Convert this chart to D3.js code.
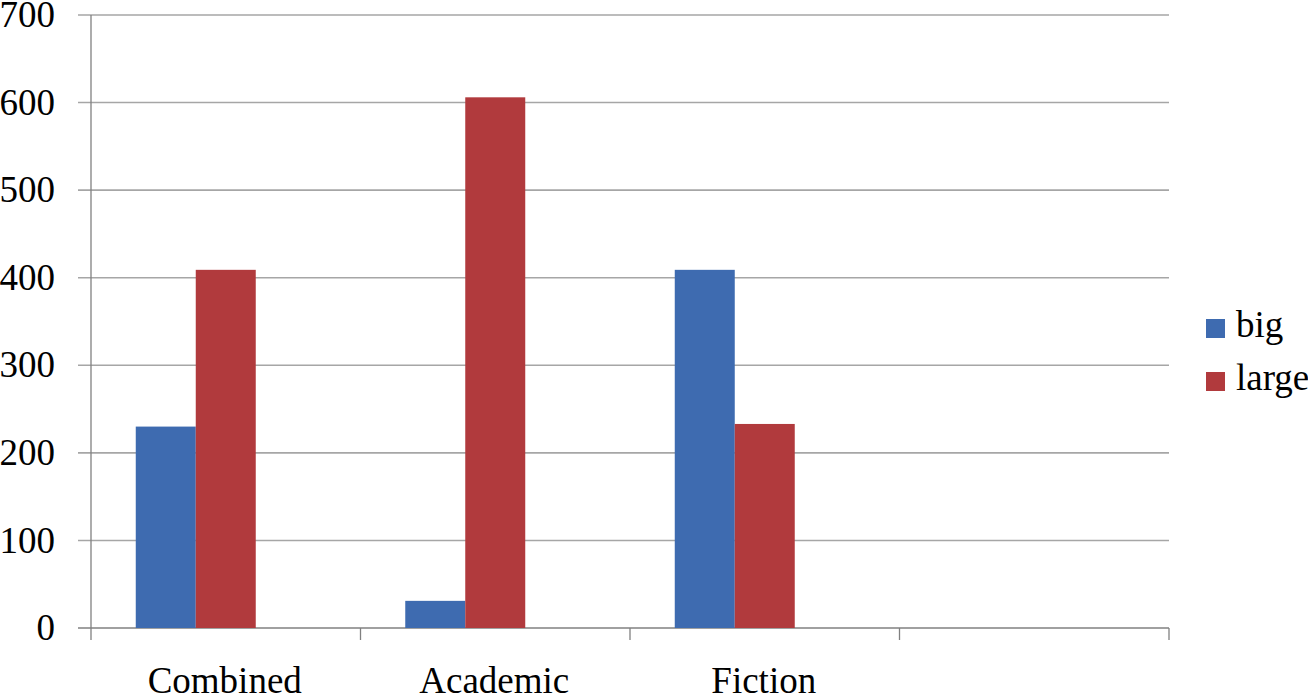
<!doctype html>
<html>
  <head>
    <meta charset="utf-8">
    <script src="https://cdn.jsdelivr.net/npm/d3@7"></script>
    <style>
      body { margin: 0; background: #fff; }
      svg text { font-family: "Liberation Serif", "Times New Roman", Times, "DejaVu Serif", serif; fill: #000; }
    </style>
  </head>
  <body>
    <div id="chart"></div>
    <script>
      const categories = ["Combined", "Academic", "Fiction", ""];
      const seriesNames = ["big", "large", ""];
      const big = [230, 31, 409, null];
      const large = [409, 606, 233, null];
      const yTicks = [0, 100, 200, 300, 400, 500, 600, 700];
      const colors = ["#3e6bb0", "#b13a3d"];

      const width = 1308, height = 695;
      const plotLeft = 91, plotRight = 1169, plotTop = 15, plotBottom = 628;
      const serif = "'Liberation Serif', 'Times New Roman', Times, 'DejaVu Serif', serif";

      const svg = d3.select("#chart").append("svg")
        .attr("width", width)
        .attr("height", height)
        .attr("font-family", serif);

      const y = d3.scaleLinear().domain([0, 700]).range([plotBottom, plotTop]);
      const x0 = d3.scaleBand().domain(d3.range(categories.length)).range([plotLeft, plotRight]);
      // third series is empty in the source, it still takes its slot
      const x1 = d3.scaleBand().domain(d3.range(seriesNames.length))
        .range([0, x0.bandwidth()]).paddingOuter(0.746);

      // gridlines
      svg.append("g").selectAll("line")
        .data(yTicks)
        .join("line")
          .attr("x1", plotLeft - 13)
          .attr("x2", plotRight)
          .attr("y1", d => y(d))
          .attr("y2", d => y(d))
          .attr("stroke", d => d === 0 ? "#808080" : "#a6a6a6")
          .attr("stroke-width", d => d === 0 ? 1.3 : 1.6);

      // y labels
      svg.append("g").selectAll("text")
        .data(yTicks)
        .join("text")
          .attr("x", 55)
          .attr("y", d => y(d))
          .attr("dy", "0.33em")
          .attr("text-anchor", "end")
          .style("font-size", "37px")
          .style("font-family", serif)
          .text(d => d);

      // bars
      const values = [big, large];
      values.forEach((vals, s) => {
        svg.append("g").selectAll("rect")
          .data(vals.map((v, i) => ({ v, i })).filter(d => d.v != null))
          .join("rect")
            .attr("x", d => x0(d.i) + x1(s))
            .attr("width", x1.bandwidth())
            .attr("y", d => y(d.v))
            .attr("height", d => y(0) - y(d.v))
            .attr("fill", colors[s]);
      });

      // y axis line
      svg.append("line")
        .attr("x1", plotLeft).attr("x2", plotLeft)
        .attr("y1", plotTop).attr("y2", plotBottom + 12)
        .attr("stroke", "#808080").attr("stroke-width", 1.3);

      // category ticks
      const edges = categories.map((c, i) => x0(i)).concat([plotRight]);
      svg.append("g").selectAll("line")
        .data(edges.slice(1))
        .join("line")
          .attr("x1", d => d).attr("x2", d => d)
          .attr("y1", plotBottom).attr("y2", plotBottom + 12)
          .attr("stroke", "#808080").attr("stroke-width", 1.3);

      // category labels
      svg.append("g").selectAll("text")
        .data(categories)
        .join("text")
          .attr("x", (d, i) => x0(i) + x0.bandwidth() / 2 - 1)
          .attr("y", 693)
          .attr("text-anchor", "middle")
          .style("font-size", "37px")
          .style("font-family", serif)
          .text(d => d);

      // legend
      const legend = svg.append("g").selectAll("g")
        .data(seriesNames.slice(0, 2))
        .join("g")
          .attr("transform", (d, i) => `translate(1206, ${319 + i * 53})`);
      legend.append("rect")
        .attr("width", 19).attr("height", 19)
        .attr("fill", (d, i) => colors[i]);
      legend.append("text")
        .attr("x", 30)
        .attr("y", 18)
        .style("font-size", "37px")
        .style("font-family", serif)
        .text(d => d);
    </script>
  </body>
</html>
